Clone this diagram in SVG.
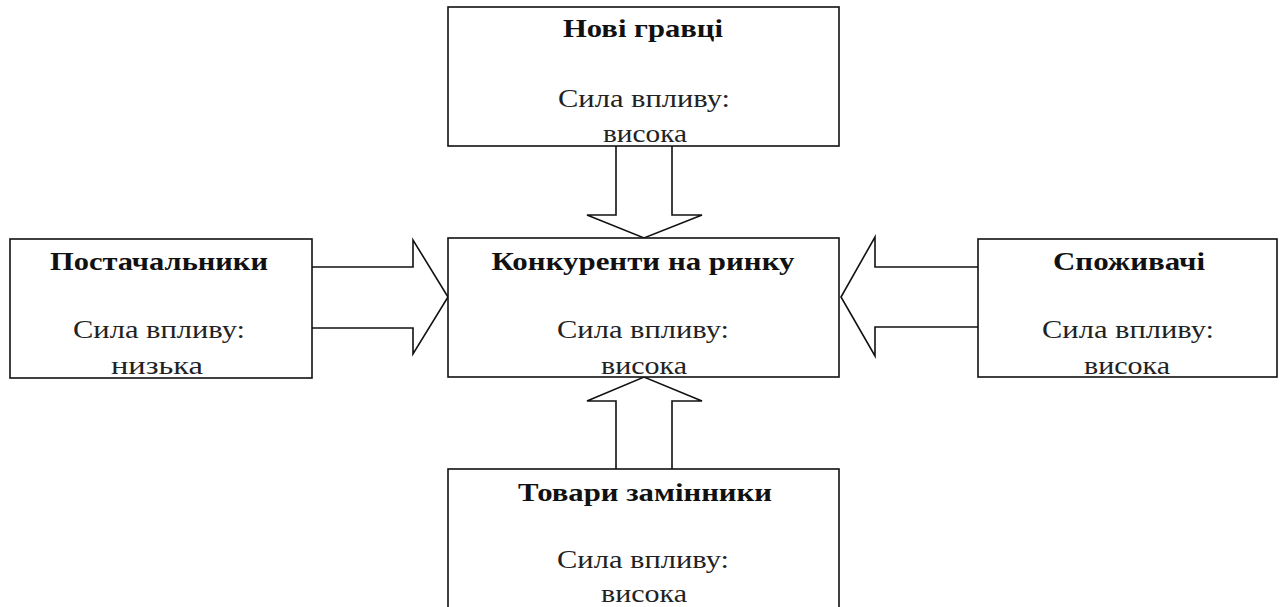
<svg xmlns="http://www.w3.org/2000/svg" width="1280" height="607" viewBox="0 0 1280 607">
<style>
.box{fill:#fff;stroke:#111;stroke-width:1.6}
.arr{fill:#fff;stroke:#111;stroke-width:1.6;stroke-linejoin:miter}
.h{font-family:"Liberation Serif","Times New Roman",serif;font-weight:bold;font-size:25px;fill:#111;text-anchor:middle}
.t{font-family:"Liberation Serif","Times New Roman",serif;font-size:26px;fill:#222;text-anchor:middle}
</style>
<rect width="1280" height="607" fill="#fff"/>
<g id="connectors">
<path class="arr" d="M616,146 V215 H587 L644,238 L702,215 H672 V146"/>
<path class="arr" d="M616,469 V401 H587 L644,377 L702,401 H672 V469"/>
<path class="arr" d="M312,267 H413 V240 L448,297 L413,354 V328 H312"/>
<path class="arr" d="M978,267 H875 V237 L841,297 L875,356 V327 H978"/>
</g>
<g id="new-players">
<rect class="box" x="448" y="7" width="391" height="139"/>
<text class="h" x="643" y="37" textLength="160" lengthAdjust="spacingAndGlyphs">Нові гравці</text>
<text class="t" x="644" y="107" textLength="172" lengthAdjust="spacingAndGlyphs">Сила впливу:</text>
<text class="t" x="645" y="142" textLength="84" lengthAdjust="spacingAndGlyphs">висока</text>
</g>
<g id="competitors">
<rect class="box" x="448" y="238" width="391" height="139"/>
<text class="h" x="643" y="270" textLength="303" lengthAdjust="spacingAndGlyphs">Конкуренти на ринку</text>
<text class="t" x="643" y="338" textLength="172" lengthAdjust="spacingAndGlyphs">Сила впливу:</text>
<text class="t" x="644" y="374" textLength="86" lengthAdjust="spacingAndGlyphs">висока</text>
</g>
<g id="suppliers">
<rect class="box" x="10" y="239" width="302" height="139"/>
<text class="h" x="159" y="270" textLength="218" lengthAdjust="spacingAndGlyphs">Постачальники</text>
<text class="t" x="159" y="338" textLength="172" lengthAdjust="spacingAndGlyphs">Сила впливу:</text>
<text class="t" x="157" y="374" textLength="92" lengthAdjust="spacingAndGlyphs">низька</text>
</g>
<g id="consumers">
<rect class="box" x="978" y="239" width="299" height="138"/>
<text class="h" x="1129" y="270" textLength="152" lengthAdjust="spacingAndGlyphs">Споживачі</text>
<text class="t" x="1128" y="338" textLength="172" lengthAdjust="spacingAndGlyphs">Сила впливу:</text>
<text class="t" x="1127" y="374" textLength="86" lengthAdjust="spacingAndGlyphs">висока</text>
</g>
<g id="substitutes">
<rect class="box" x="448" y="469" width="391" height="150"/>
<text class="h" x="645" y="501" textLength="254" lengthAdjust="spacingAndGlyphs">Товари замінники</text>
<text class="t" x="643" y="568" textLength="172" lengthAdjust="spacingAndGlyphs">Сила впливу:</text>
<text class="t" x="644" y="602" textLength="86" lengthAdjust="spacingAndGlyphs">висока</text>
</g>
</svg>
